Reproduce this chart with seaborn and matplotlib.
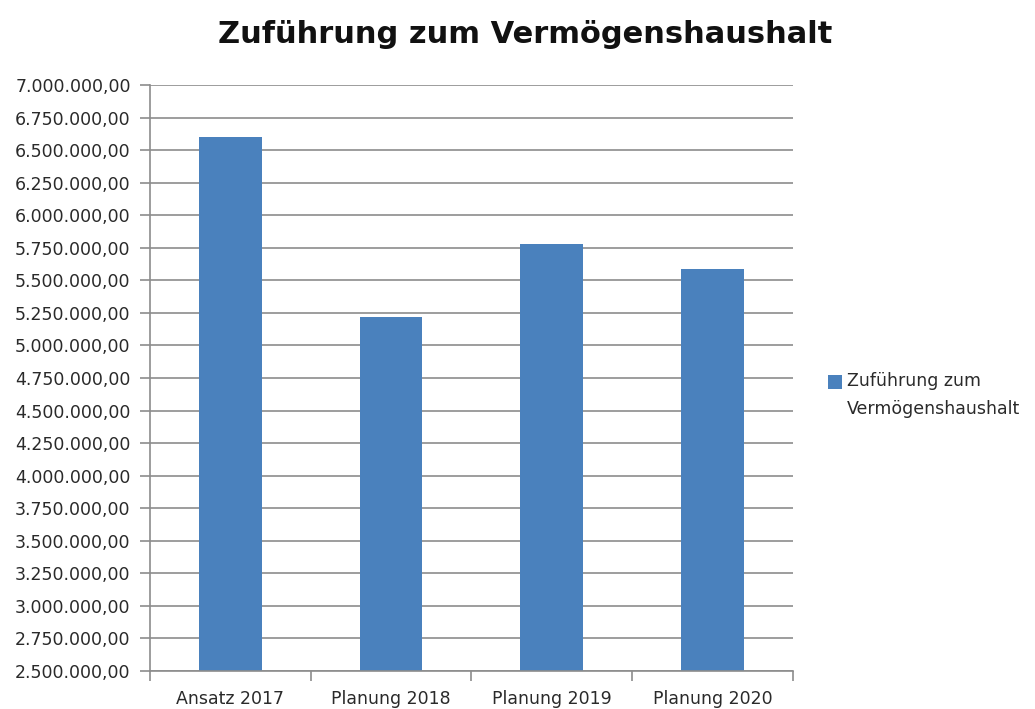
import pandas as pd
import matplotlib
matplotlib.use("Agg")
import matplotlib.pyplot as plt
import seaborn as sns
from matplotlib.ticker import FuncFormatter, FixedLocator

# Werte aus dem Haushalt
kategorien = ["Ansatz 2017", "Planung 2018", "Planung 2019", "Planung 2020"]
werte = [6600000, 5215000, 5780000, 5585000]
reihe = "Zuführung zum\nVermögenshaushalt"
titel = "Zuführung zum Vermögenshaushalt"

df = pd.DataFrame({"kat": kategorien, "wert": werte, "reihe": reihe})

sns.set_style("white")
plt.rcParams["font.family"] = ["DejaVu Sans"]

fig = plt.figure(figsize=(10.35, 7.09), dpi=100)
ax = fig.add_axes([0.145, 0.0536, 0.621, 0.8264])

sns.barplot(data=df, x="kat", y="wert", hue="reihe", palette=["#4A81BD"],
            width=0.39, saturation=1, linewidth=0, ax=ax, legend=True)

ax.set_ylim(2500000, 7000000)
ax.set_yticks(range(2500000, 7000001, 250000))
def de_format(v, pos):
    s = f"{v:,.2f}"
    return s.replace(",", "X").replace(".", ",").replace("X", ".")
ax.yaxis.set_major_formatter(FuncFormatter(de_format))
ax.set_xlim(-0.5, 3.5)
ax.xaxis.set_minor_locator(FixedLocator([-0.5, 0.5, 1.5, 2.5, 3.5]))

ax.grid(axis="y", color="#8c8c8c", linewidth=1.2)
ax.set_axisbelow(True)
for s in ["top", "right"]:
    ax.spines[s].set_visible(False)
for s in ["left", "bottom"]:
    ax.spines[s].set_color("#8c8c8c")
    ax.spines[s].set_linewidth(1.2)

ax.tick_params(axis="y", which="major", length=7, color="#8c8c8c", width=1.2,
               labelsize=12.5, labelcolor="#2a2a2a", pad=7, left=True)
ax.tick_params(axis="x", which="major", length=0, labelsize=12.5,
               labelcolor="#2a2a2a", pad=14)
ax.tick_params(axis="x", which="minor", length=7, color="#8c8c8c", width=1.2,
               bottom=True)
ax.set_xlabel("")
ax.set_ylabel("")

fig.suptitle(titel, fontsize=22, fontweight="bold", x=0.507, y=0.972,
             color="#111111")

sns.move_legend(ax, "center left", bbox_to_anchor=(1.03, 0.471), frameon=False,
                title=None, fontsize=12.5, handlelength=0.8, handleheight=0.8,
                handletextpad=0.3, labelcolor="#2a2a2a")
leg = ax.get_legend()
for t in leg.get_texts():
    t.set_linespacing(1.7)
# Kästchen auf Höhe der ersten Zeile
for p in leg.get_patches():
    p.set_y(p.get_y() + 10)

fig.savefig("out.png", dpi=100)
